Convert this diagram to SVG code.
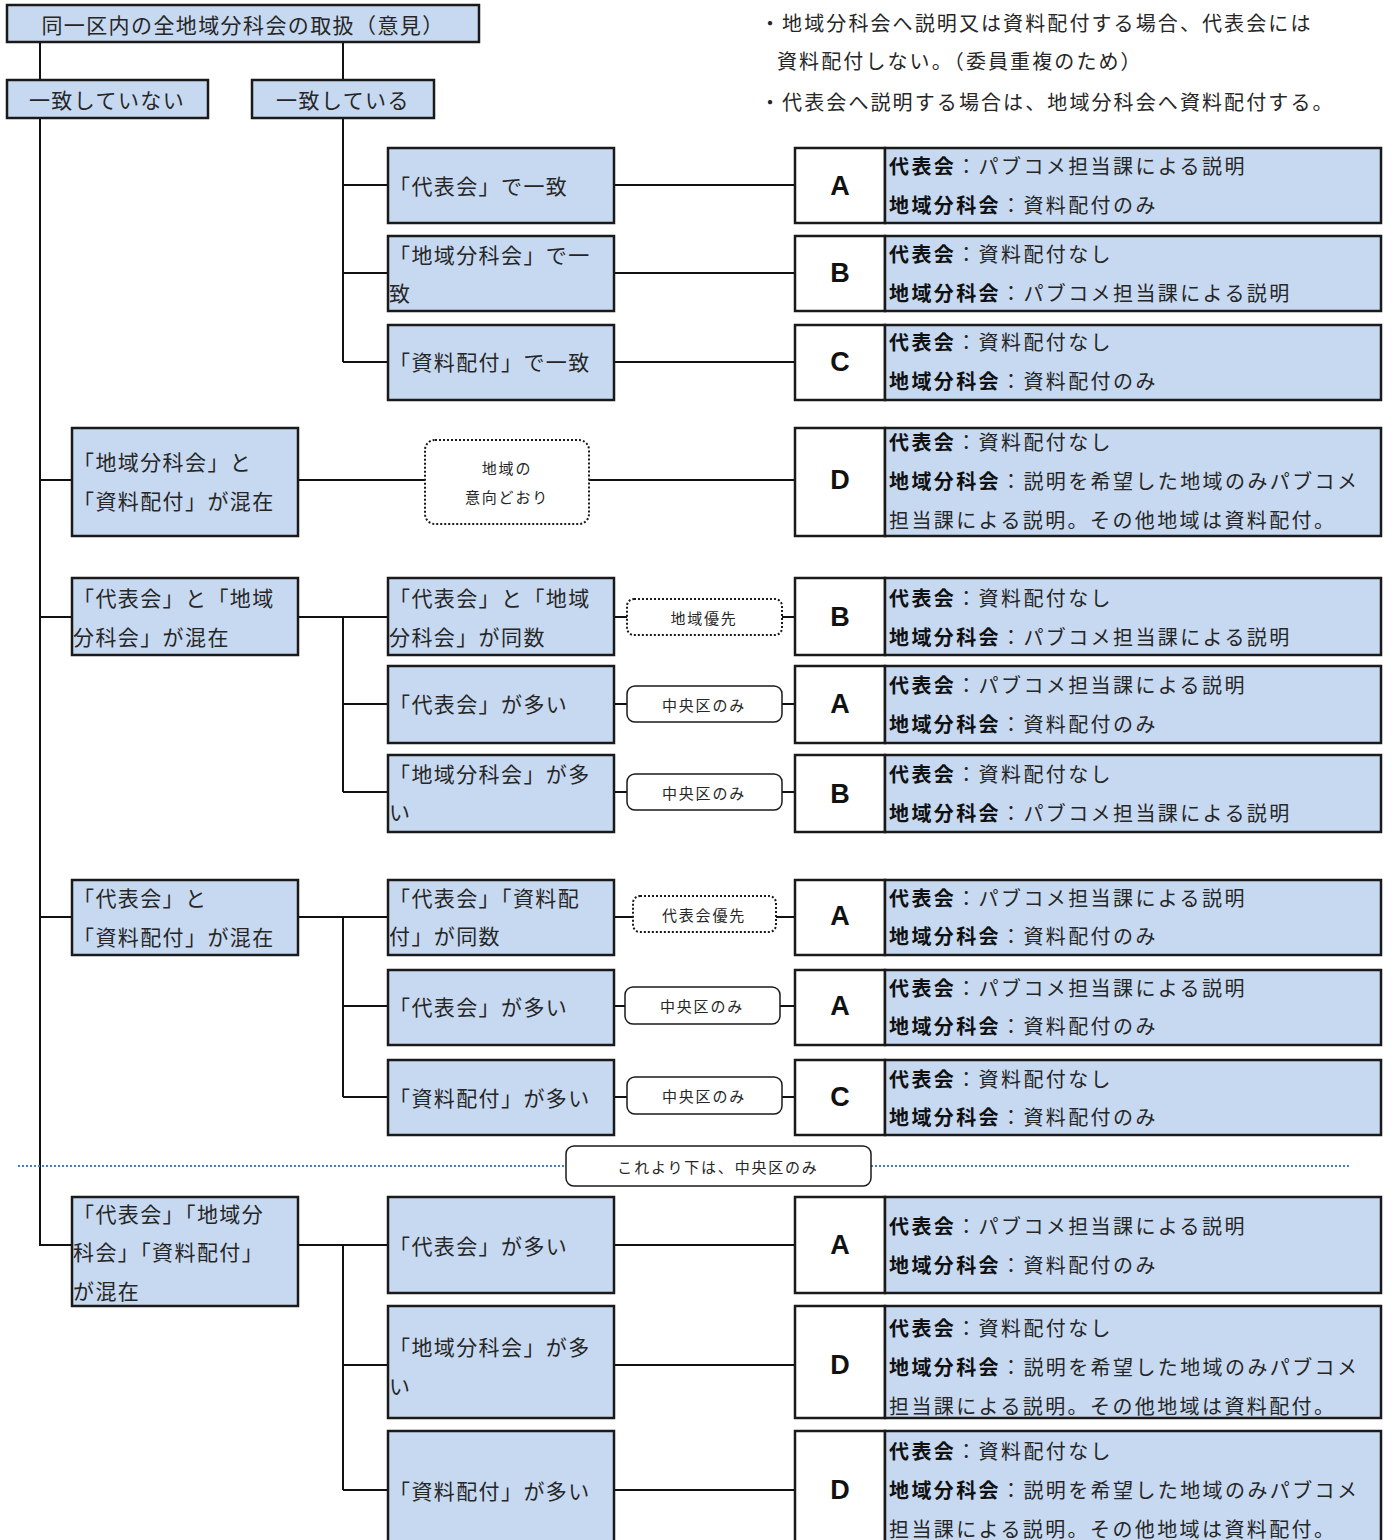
<svg xmlns="http://www.w3.org/2000/svg" width="1392" height="1540" viewBox="0 0 1392 1540">
<style>
text{font-family:"Noto Sans CJK JP","Liberation Sans",sans-serif;fill:#262626;dominant-baseline:central}
.box{fill:#c6d9f1;stroke:#1a1a1a;stroke-width:2.5}
.wbox{fill:#fff;stroke:#1a1a1a;stroke-width:2.5}
.t{font-size:21px;letter-spacing:1.4px}
.c{text-anchor:middle}
.lt{font-size:27px;font-weight:bold;font-family:"Liberation Sans",sans-serif;text-anchor:middle;fill:#111}
.ct{font-size:20px;letter-spacing:2.4px}
.b{font-weight:bold;fill:#111}
.pill{fill:#fff;stroke:#1a1a1a;stroke-width:1.5}
.dot{fill:#fff;stroke:#1a1a1a;stroke-width:2;stroke-dasharray:2 2}
.pt{font-size:15px;letter-spacing:1.8px;text-anchor:middle}
.note{font-size:20px;letter-spacing:2.1px}
.conn{fill:none;stroke:#111;stroke-width:2}
.blue{fill:none;stroke:#4a7ebb;stroke-width:2;stroke-dasharray:2 2}
</style>

<g id="connectors">
<path class="conn" d="M40 42V80M343 42V80M40 118V1245H72M40 480H72M40 617H72M40 917H72"/>
<path class="conn" d="M343 118V362M343 185H388M343 273H388M343 362H388M614 185H795M614 273H795M614 362H795"/>
<path class="conn" d="M298 480H795"/>
<path class="conn" d="M298 617H388M343 617V792M343 704H388M343 792H388M614 617H795M614 704H795M614 792H795"/>
<path class="conn" d="M298 917H388M343 917V1097M343 1006H388M343 1097H388M614 917H795M614 1006H795M614 1097H795"/>
<path class="conn" d="M298 1245H388M343 1245V1490M343 1365H388M343 1490H388M614 1245H795M614 1365H795M614 1490H795"/>
<path class="blue" d="M18 1166H566M871 1166H1350"/>
</g>

<g id="notes">
<text class="note" x="760" y="22">・地域分科会へ説明又は資料配付する場合、代表会には</text>
<text class="note" x="777" y="60">資料配付しない。（委員重複のため）</text>
<text class="note" x="760" y="101">・代表会へ説明する場合は、地域分科会へ資料配付する。</text>
</g>

<g id="root"><rect class="box" x="7" y="5" width="472" height="37"/><text class="t c" x="243" y="24">同一区内の全地域分科会の取扱（意見）</text></g>
<g id="no"><rect class="box" x="7" y="80" width="201" height="38"/><text class="t c" x="107" y="99">一致していない</text></g>
<g id="yes"><rect class="box" x="252" y="80" width="182" height="38"/><text class="t c" x="343" y="99">一致している</text></g>

<g id="m1"><rect class="box" x="388" y="148" width="226" height="75"/><text class="t" x="389" y="185">「代表会」で一致</text></g>
<g id="m2"><rect class="box" x="388" y="236" width="226" height="75"/><text class="t" x="389" y="254">「地域分科会」で一</text><text class="t" x="389" y="292">致</text></g>
<g id="m3"><rect class="box" x="388" y="325" width="226" height="75"/><text class="t" x="389" y="361">「資料配付」で一致</text></g>

<g id="l1"><rect class="box" x="72" y="428" width="226" height="108"/><text class="t" x="73" y="461">「地域分科会」と</text><text class="t" x="73" y="500">「資料配付」が混在</text></g>
<g id="p1"><rect class="dot" x="425" y="440" width="164" height="84" rx="10"/><text class="pt" x="507" y="467">地域の</text><text class="pt" x="507" y="496">意向どおり</text></g>

<g id="l2"><rect class="box" x="72" y="578" width="226" height="77"/><text class="t" x="73" y="597">「代表会」と「地域</text><text class="t" x="73" y="636">分科会」が混在</text></g>
<g id="m4"><rect class="box" x="388" y="578" width="226" height="77"/><text class="t" x="389" y="597">「代表会」と「地域</text><text class="t" x="389" y="636">分科会」が同数</text></g>
<g id="m5"><rect class="box" x="388" y="666" width="226" height="77"/><text class="t" x="389" y="703">「代表会」が多い</text></g>
<g id="m6"><rect class="box" x="388" y="755" width="226" height="77"/><text class="t" x="389" y="773">「地域分科会」が多</text><text class="t" x="389" y="811">い</text></g>
<g id="p2"><rect class="dot" x="627" y="599" width="155" height="36" rx="7"/><text class="pt" x="704" y="617">地域優先</text></g>
<g id="p3"><rect class="pill" x="627" y="686" width="155" height="36" rx="8"/><text class="pt" x="704" y="704">中央区のみ</text></g>
<g id="p4"><rect class="pill" x="627" y="774" width="155" height="36" rx="8"/><text class="pt" x="704" y="792">中央区のみ</text></g>

<g id="l3"><rect class="box" x="72" y="880" width="226" height="75"/><text class="t" x="73" y="897">「代表会」と</text><text class="t" x="73" y="936">「資料配付」が混在</text></g>
<g id="m7"><rect class="box" x="388" y="880" width="226" height="75"/><text class="t" x="389" y="897">「代表会」「資料配</text><text class="t" x="389" y="935">付」が同数</text></g>
<g id="m8"><rect class="box" x="388" y="970" width="226" height="75"/><text class="t" x="389" y="1006">「代表会」が多い</text></g>
<g id="m9"><rect class="box" x="388" y="1060" width="226" height="75"/><text class="t" x="389" y="1097">「資料配付」が多い</text></g>
<g id="p5"><rect class="dot" x="633" y="896" width="143" height="36" rx="7"/><text class="pt" x="704" y="914">代表会優先</text></g>
<g id="p6"><rect class="pill" x="625" y="987" width="155" height="37" rx="8"/><text class="pt" x="702" y="1005">中央区のみ</text></g>
<g id="p7"><rect class="pill" x="627" y="1077" width="155" height="37" rx="8"/><text class="pt" x="704" y="1095">中央区のみ</text></g>

<g id="sep"><rect class="pill" x="566" y="1146" width="305" height="40" rx="8"/><text class="pt" x="718" y="1166">これより下は、中央区のみ</text></g>

<g id="l4"><rect class="box" x="72" y="1197" width="226" height="109"/><text class="t" x="73" y="1213">「代表会」「地域分</text><text class="t" x="73" y="1251">科会」「資料配付」</text><text class="t" x="73" y="1290">が混在</text></g>
<g id="m10"><rect class="box" x="388" y="1197" width="226" height="96"/><text class="t" x="389" y="1245">「代表会」が多い</text></g>
<g id="m11"><rect class="box" x="388" y="1306" width="226" height="112"/><text class="t" x="389" y="1346">「地域分科会」が多</text><text class="t" x="389" y="1385">い</text></g>
<g id="m12"><rect class="box" x="388" y="1431" width="226" height="120"/><text class="t" x="389" y="1490">「資料配付」が多い</text></g>

<g id="r1"><rect class="wbox" x="795" y="148" width="90" height="75"/><rect class="box" x="885" y="148" width="496" height="75"/><text class="lt" x="840" y="186">A</text><text class="ct" x="889" y="165"><tspan class="b">代表会</tspan>：パブコメ担当課による説明</text><text class="ct" x="889" y="204"><tspan class="b">地域分科会</tspan>：資料配付のみ</text></g>
<g id="r2"><rect class="wbox" x="795" y="236" width="90" height="75"/><rect class="box" x="885" y="236" width="496" height="75"/><text class="lt" x="840" y="273">B</text><text class="ct" x="889" y="253"><tspan class="b">代表会</tspan>：資料配付なし</text><text class="ct" x="889" y="292"><tspan class="b">地域分科会</tspan>：パブコメ担当課による説明</text></g>
<g id="r3"><rect class="wbox" x="795" y="325" width="90" height="75"/><rect class="box" x="885" y="325" width="496" height="75"/><text class="lt" x="840" y="362">C</text><text class="ct" x="889" y="341"><tspan class="b">代表会</tspan>：資料配付なし</text><text class="ct" x="889" y="380"><tspan class="b">地域分科会</tspan>：資料配付のみ</text></g>
<g id="r4"><rect class="wbox" x="795" y="428" width="90" height="108"/><rect class="box" x="885" y="428" width="496" height="108"/><text class="lt" x="840" y="480">D</text><text class="ct" x="889" y="441"><tspan class="b">代表会</tspan>：資料配付なし</text><text class="ct" x="889" y="480"><tspan class="b">地域分科会</tspan>：説明を希望した地域のみパブコメ</text><text class="ct" x="889" y="519">担当課による説明。その他地域は資料配付。</text></g>
<g id="r5"><rect class="wbox" x="795" y="578" width="90" height="77"/><rect class="box" x="885" y="578" width="496" height="77"/><text class="lt" x="840" y="617">B</text><text class="ct" x="889" y="597"><tspan class="b">代表会</tspan>：資料配付なし</text><text class="ct" x="889" y="636"><tspan class="b">地域分科会</tspan>：パブコメ担当課による説明</text></g>
<g id="r6"><rect class="wbox" x="795" y="666" width="90" height="77"/><rect class="box" x="885" y="666" width="496" height="77"/><text class="lt" x="840" y="704">A</text><text class="ct" x="889" y="684"><tspan class="b">代表会</tspan>：パブコメ担当課による説明</text><text class="ct" x="889" y="723"><tspan class="b">地域分科会</tspan>：資料配付のみ</text></g>
<g id="r7"><rect class="wbox" x="795" y="755" width="90" height="77"/><rect class="box" x="885" y="755" width="496" height="77"/><text class="lt" x="840" y="794">B</text><text class="ct" x="889" y="773"><tspan class="b">代表会</tspan>：資料配付なし</text><text class="ct" x="889" y="812"><tspan class="b">地域分科会</tspan>：パブコメ担当課による説明</text></g>
<g id="r8"><rect class="wbox" x="795" y="880" width="90" height="75"/><rect class="box" x="885" y="880" width="496" height="75"/><text class="lt" x="840" y="916">A</text><text class="ct" x="889" y="897"><tspan class="b">代表会</tspan>：パブコメ担当課による説明</text><text class="ct" x="889" y="935"><tspan class="b">地域分科会</tspan>：資料配付のみ</text></g>
<g id="r9"><rect class="wbox" x="795" y="970" width="90" height="75"/><rect class="box" x="885" y="970" width="496" height="75"/><text class="lt" x="840" y="1006">A</text><text class="ct" x="889" y="987"><tspan class="b">代表会</tspan>：パブコメ担当課による説明</text><text class="ct" x="889" y="1025"><tspan class="b">地域分科会</tspan>：資料配付のみ</text></g>
<g id="r10"><rect class="wbox" x="795" y="1060" width="90" height="75"/><rect class="box" x="885" y="1060" width="496" height="75"/><text class="lt" x="840" y="1097">C</text><text class="ct" x="889" y="1078"><tspan class="b">代表会</tspan>：資料配付なし</text><text class="ct" x="889" y="1116"><tspan class="b">地域分科会</tspan>：資料配付のみ</text></g>
<g id="r11"><rect class="wbox" x="795" y="1197" width="90" height="96"/><rect class="box" x="885" y="1197" width="496" height="96"/><text class="lt" x="840" y="1245">A</text><text class="ct" x="889" y="1225"><tspan class="b">代表会</tspan>：パブコメ担当課による説明</text><text class="ct" x="889" y="1264"><tspan class="b">地域分科会</tspan>：資料配付のみ</text></g>
<g id="r12"><rect class="wbox" x="795" y="1306" width="90" height="112"/><rect class="box" x="885" y="1306" width="496" height="112"/><text class="lt" x="840" y="1365">D</text><text class="ct" x="889" y="1327"><tspan class="b">代表会</tspan>：資料配付なし</text><text class="ct" x="889" y="1366"><tspan class="b">地域分科会</tspan>：説明を希望した地域のみパブコメ</text><text class="ct" x="889" y="1405">担当課による説明。その他地域は資料配付。</text></g>
<g id="r13"><rect class="wbox" x="795" y="1431" width="90" height="120"/><rect class="box" x="885" y="1431" width="496" height="120"/><text class="lt" x="840" y="1490">D</text><text class="ct" x="889" y="1450"><tspan class="b">代表会</tspan>：資料配付なし</text><text class="ct" x="889" y="1489"><tspan class="b">地域分科会</tspan>：説明を希望した地域のみパブコメ</text><text class="ct" x="889" y="1528">担当課による説明。その他地域は資料配付。</text></g>
</svg>
